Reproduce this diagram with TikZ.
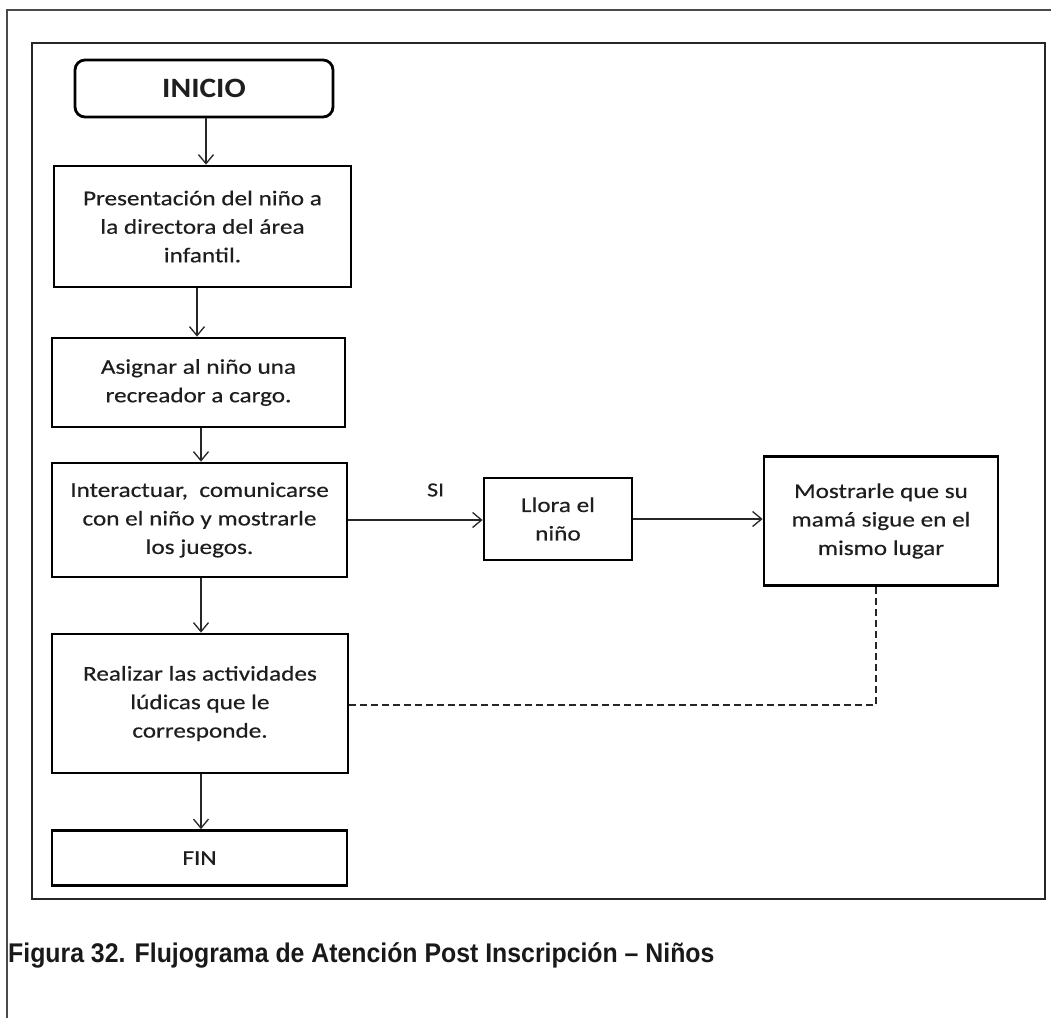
\documentclass[tikz,border=0pt]{standalone}
\usepackage{fontspec}
\setmainfont{Carlito}
\newfontfamily\boxfont[FakeStretch=1.2,FakeBold=0.4]{Carlito}
\newfontfamily\titlefont[FakeStretch=1.12]{Carlito}
\newfontfamily\capfont[FakeStretch=0.92]{Liberation Sans}
\usetikzlibrary{arrows.meta}
\definecolor{txt}{HTML}{1E1E1E}
\definecolor{framegray}{HTML}{4A4A4A}
\begin{document}
\begin{tikzpicture}[x=1pt,y=-1pt,
  stepbox/.style={draw=black, line width=2.8pt, rectangle, align=center,
    inner sep=0pt, text=txt, font=\boxfont\fontsize{21}{28.5}\selectfont},
  startbox/.style={stepbox, rounded corners=10pt, font=\titlefont\bfseries\fontsize{28}{30}\selectfont},
  arr/.style={line width=1.3pt, draw=black!85, -{Straight Barb[length=9pt,width=15pt]}},
  dashline/.style={line width=1.3pt, draw=black!85, dash pattern=on 7pt off 4pt}]
% page and frames
\fill[white] (0,0) rectangle (1051,1018);
\useasboundingbox (0,0) rectangle (1051,1018);
\draw[framegray, line width=1.6pt] (7,1018) -- (7,10) -- (1051,10);
\draw[black!85, line width=2.6pt] (32,43) rectangle (1045,899);

% process steps
\node[startbox, minimum width=258pt, minimum height=57pt] (inicio) at (204,88.5) {INICIO};
\node[stepbox, minimum width=297pt, minimum height=121pt] (b1) at (202.5,226.5)
  {Presentación del niño a\\la directora del área\\infantil.};
\node[stepbox, minimum width=293pt, minimum height=89pt] (b2) at (198.5,382.5)
  {Asignar al niño una\\recreador a cargo.};
\node[stepbox, minimum width=295pt, minimum height=114pt] (b3) at (199.5,520)
  {Interactuar,\ \ comunicarse\\con el niño y mostrarle\\los juegos.};
\node[stepbox, minimum width=148pt, minimum height=82pt] (llora) at (558,519)
  {Llora el\\niño};
\node[stepbox, minimum width=234pt, minimum height=129pt] (mostrar) at (881,521)
  {Mostrarle que su\\mamá sigue en el\\mismo lugar};
\node[stepbox, minimum width=296pt, minimum height=139pt] (b4) at (200,703.5)
  {Realizar las actividades\\lúdicas que le\\corresponde.};
\node[stepbox, minimum width=295pt, minimum height=55pt] (fin) at (199.5,858) {FIN};

% connectors
\draw[arr] ([xshift=2pt]inicio.south) -- ([xshift=2pt]inicio.south |- b1.north);
\draw[arr] ([xshift=-5.5pt]b1.south) -- ([xshift=-5.5pt]b1.south |- b2.north);
\draw[arr] ([xshift=2.5pt]b2.south) -- ([xshift=2.5pt]b2.south |- b3.north);
\draw[arr] ([xshift=1.5pt]b3.south) -- ([xshift=1.5pt]b3.south |- b4.north);
\draw[arr] ([xshift=1pt]b4.south) -- ([xshift=1pt]b4.south |- fin.north);
\draw[arr] (b3.east) -- (b3.east -| llora.west)
  node[pos=0.65, yshift=30pt, text=txt, font=\boxfont\fontsize{20}{22}\selectfont] (si) {SI};
\draw[arr] (llora.east) -- (llora.east -| mostrar.west);
\draw[dashline] ([xshift=-5pt]mostrar.south) -- ([xshift=-5pt,yshift=-1.5pt]mostrar.south |- b4.east) -- ([yshift=-1.5pt]b4.east);

% caption
\node[anchor=base west, inner sep=0pt, text=black!90,
  font=\capfont\bfseries\fontsize{27}{30}\selectfont] (caption) at (8,962)
  {Figura 32. Flujograma de Atención Post Inscripción – Niños};
\end{tikzpicture}
\end{document}
